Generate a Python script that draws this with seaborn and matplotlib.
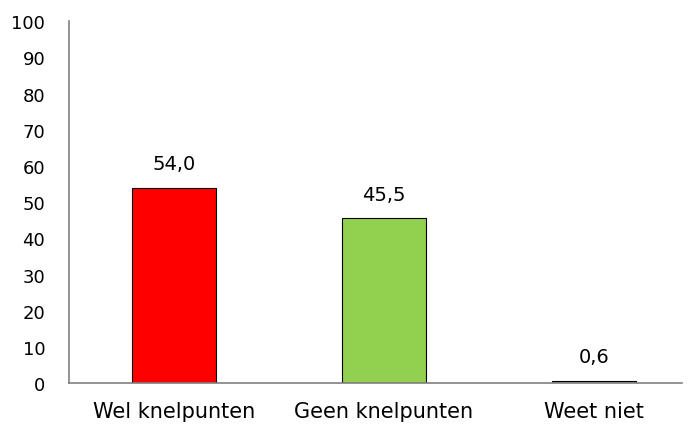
import matplotlib
matplotlib.use("Agg")
import matplotlib.pyplot as plt
import seaborn as sns
import pandas as pd

categories = ["Wel knelpunten", "Geen knelpunten", "Weet niet"]
values = [54.0, 45.5, 0.6]
labels = ["54,0", "45,5", "0,6"]
colors = ["#FF0000", "#92D050", "#7F7F7F"]

sns.set_theme(style="white")
plt.rcParams['font.family'] = ['DejaVu Sans']

fig = plt.figure(figsize=(6.89, 4.27), dpi=100)
ax = fig.add_axes([0.100, 0.1007, 0.890, 0.847])

df = pd.DataFrame({"cat": categories, "val": values})
sns.barplot(data=df, x="cat", y="val", hue="cat", palette=colors, legend=False,
            saturation=1, width=0.40, edgecolor="black", linewidth=0.8, ax=ax)

for i, (v, t) in enumerate(zip(values, labels)):
    ax.text(i, v + 4, t, ha="center", va="bottom", fontsize=14, color="black")

ax.set_ylim(0, 100)
ax.set_xlim(-0.5, 2.42)
ax.set_yticks(range(0, 101, 10))
ax.set_xlabel("")
ax.set_ylabel("")
ax.tick_params(axis="both", length=0, colors="black")
ax.tick_params(axis="y", labelsize=13, pad=17)
ax.tick_params(axis="x", labelsize=15, pad=13)
for s in ["top", "right"]:
    ax.spines[s].set_visible(False)
for s in ["left", "bottom"]:
    ax.spines[s].set_color("#808080")
    ax.spines[s].set_linewidth(1.2)

fig.savefig("out.png", dpi=100)
